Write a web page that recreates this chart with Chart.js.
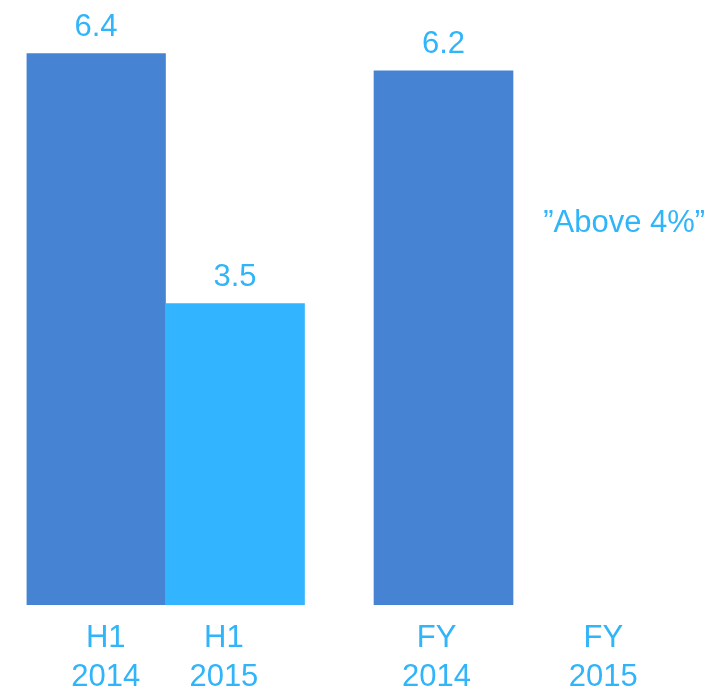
<!DOCTYPE html>
<html>
<head>
<meta charset="utf-8">
<script src="https://cdn.jsdelivr.net/npm/chart.js@4"></script>
<style>html,body{margin:0;padding:0;background:#fff;}</style>
</head>
<body>
<canvas id="myChart" width="727" height="688"></canvas>
<script>
// data
var categories = [['H1', '2014'], ['H1', '2015'], ['FY', '2014'], ['FY', '2015']];
var values = [6.4, 3.5, 6.2];
var barSlots = [0.5, 1.5, 3.0];
var guidance = '\u201DAbove 4%\u201D';
var guidanceValue = 4.33;

var textColor = '#30B4FA';
var fontFamily = '"Liberation Sans", Arial, sans-serif';

var valueLabels = {
    id: 'valueLabels',
    afterDatasetsDraw: function(chart) {
        var c = chart.ctx;
        var meta = chart.getDatasetMeta(0);
        c.save();
        c.font = '31px ' + fontFamily;
        c.fillStyle = textColor;
        c.textAlign = 'center';
        c.textBaseline = 'alphabetic';
        meta.data.forEach(function(bar, i) {
            c.fillText(values[i].toFixed(1), bar.x, bar.y - 18);
        });
        // FY 2015 has no bar, only the guidance text
        c.fillText(guidance, chart.scales.x.getPixelForValue(4.30), chart.scales.y.getPixelForValue(guidanceValue));
        c.restore();
    }
};

var ctx = document.getElementById('myChart').getContext('2d');
var myChart = new Chart(ctx, {
    type: 'bar',
    data: {
        datasets: [{
            data: barSlots.map(function(x, i) { return {x: x, y: values[i]}; }),
            backgroundColor: ['#4684D3', '#33B4FF', '#4684D3'],
            barPercentage: 1,
            categoryPercentage: 1,
            xAxisID: 'x'
        }]
    },
    options: {
        responsive: false,
        animation: false,
        layout: {
            padding: {left: 26.5, right: 5.5, top: 2, bottom: 0}
        },
        plugins: {
            legend: { display: false },
            tooltip: { enabled: false }
        },
        scales: {
            x: {
                type: 'linear',
                offset: false,
                min: 0,
                max: 5,
                display: false,
                ticks: { stepSize: 1 }
            },
            x2: {
                type: 'linear',
                offset: false,
                position: 'bottom',
                min: 0,
                max: 5,
                afterBuildTicks: function(scale) {
                    scale.ticks = [0.57, 1.42, 2.95, 4.15].map(function(v) { return {value: v}; });
                },
                afterFit: function(scale) {
                    scale.height = 83;
                    scale.paddingLeft = 0;
                    scale.paddingRight = 0;
                },
                grid: { display: false, drawTicks: false },
                border: { display: false },
                ticks: {
                    autoSkip: false,
                    maxRotation: 0,
                    padding: 14,
                    color: textColor,
                    font: { family: fontFamily, size: 31, lineHeight: 1.26 },
                    callback: function(value, index) {
                        return categories[index];
                    }
                }
            },
            y: {
                min: 0,
                max: 7,
                display: false
            }
        }
    },
    plugins: [valueLabels]
});
</script>
</body>
</html>
